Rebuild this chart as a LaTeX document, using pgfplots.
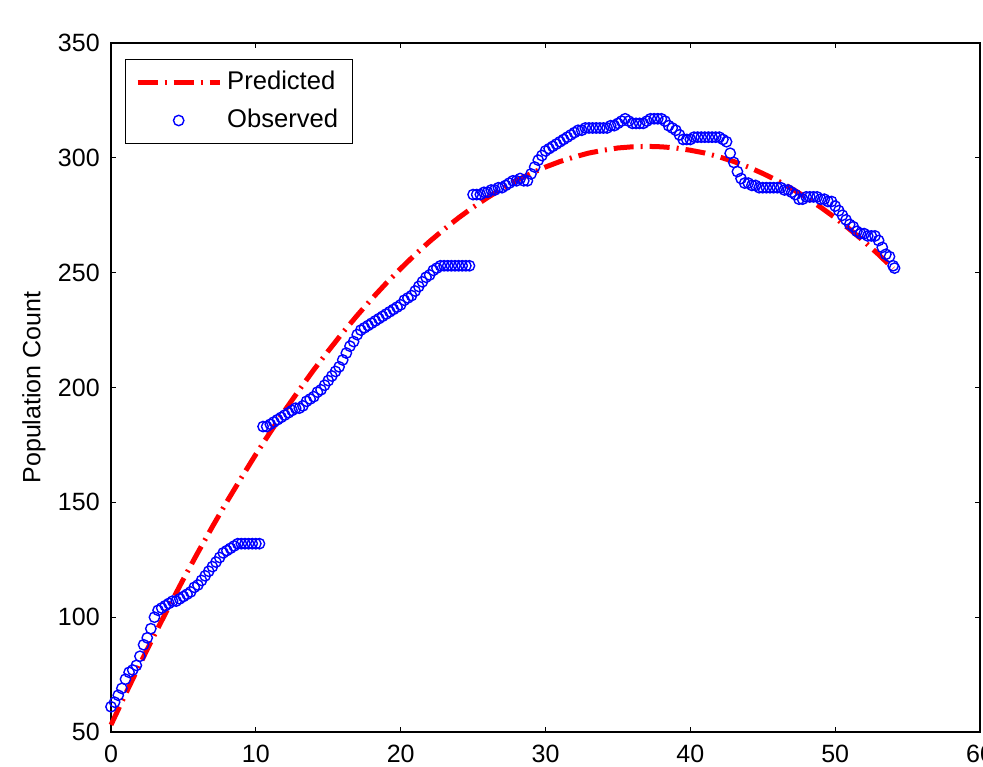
\documentclass[border=0pt]{standalone}
\usepackage{pgfplots}
\pgfplotsset{compat=1.18}
\usepackage{fontspec}
\setmainfont{Liberation Sans}
\definecolor{mred}{RGB}{255,0,0}
\definecolor{mblue}{RGB}{0,0,255}
\pgfplotsset{
    lineleg/.style={legend image code/.code={\draw[##1] (0pt,0pt) -- (41pt,0pt);}},
    markleg/.style={legend image code/.code={\draw[##1] plot coordinates {(20.5pt,0pt)};}},
}
\begin{document}
\begin{tikzpicture}
\fontsize{12.5}{15}\selectfont
\begin{axis}[
    name=ax,
    scale only axis,
    width=434.5pt,
    height=344.5pt,
    xmin=0, xmax=60,
    ymin=50, ymax=350,
    xtick={0,10,...,60},
    ytick={50,100,...,350},
    tick align=inside,
    major tick length=2.5pt,
    axis line style={line width=0.6pt},
    every tick/.style={black, line width=0.6pt},
    /pgf/number format/assume math mode=true,
    tick label style={font=\fontsize{12.5}{15}\selectfont},
    xticklabel style={yshift=-2.3pt},
    yticklabel style={xshift=-1.3pt},
    ylabel={Population Count},
    every axis y label/.style={at={(axis description cs:-0.0886,0.5)}, rotate=90, anchor=center},
    clip=false,
    legend style={at={(axis description cs:0.0161,0.977)}, anchor=north west,
        draw=black, line width=0.6pt, inner xsep=4.8pt, inner ysep=4.3pt,
        row sep=5pt, cells={anchor=west},
        nodes={inner ysep=1.5pt, inner xsep=2.5pt, font=\fontsize{12.8}{15}\selectfont}},
]
% predicted curve
\addplot[mred, line width=2.5pt, dash pattern=on 10pt off 3.5pt on 1pt off 3.5pt, lineleg]
coordinates {
(0,53.1) (1,66.5) (2,79.6) (3,92.3) (4,104.6) (5,116.6) (6,128.2) (7,139.4) (8,150.3) (9,160.7)
(10,170.9) (11,180.6) (12,190.0) (13,199.0) (14,207.7) (15,215.9) (16,223.9) (17,231.4) (18,238.6) (19,245.4)
(20,251.8) (21,257.9) (22,263.6) (23,268.9) (24,273.9) (25,278.5) (26,282.7) (27,286.6) (28,290.1) (29,293.2)
(30,296.0) (31,298.4) (32,300.4) (33,302.1) (34,303.3) (35,304.3) (36,304.8) (37,305.0) (38,304.8) (39,304.3)
(40,303.3) (41,302.1) (42,300.4) (43,298.4) (44,296.0) (45,293.2) (46,290.1) (47,286.6) (48,282.7) (49,278.5)
(50,273.9) (51,268.9) (52,263.6) (53,257.9) (54,251.8)
};
\addlegendentry{Predicted}
% observed counts
\addplot[mblue, only marks, mark=o, mark size=2.6pt, line width=0.7pt, markleg]
coordinates {
(0,61) (0.25,63) (0.5,66) (0.75,69) (1.0,73) (1.25,76) (1.5,77) (1.75,79) (2.0,83) (2.25,88)
(2.5,91) (2.75,95) (3.0,100) (3.25,103) (3.5,104) (3.75,105) (4.0,106) (4.25,107) (4.5,107) (4.75,108)
(5.0,109) (5.25,110) (5.5,111) (5.75,113) (6.0,114) (6.25,116) (6.5,118) (6.75,120) (7.0,122) (7.25,124)
(7.5,126) (7.75,128) (8.0,129) (8.25,130) (8.5,131) (8.75,132) (9.0,132) (9.25,132) (9.5,132) (9.75,132)
(10.0,132) (10.25,132)
(10.5,183) (10.75,183) (11.0,184) (11.25,185) (11.5,186) (11.75,187) (12.0,188) (12.25,189) (12.5,190) (12.75,191)
(13.0,191) (13.25,192) (13.5,194) (13.75,195) (14.0,196) (14.25,198) (14.5,199) (14.75,201) (15.0,203) (15.25,205)
(15.5,207) (15.75,209) (16.0,212) (16.25,215) (16.5,218) (16.75,220) (17.0,223) (17.25,225) (17.5,226) (17.75,227)
(18.0,228) (18.25,229) (18.5,230) (18.75,231) (19.0,232) (19.25,233) (19.5,234) (19.75,235) (20.0,236) (20.25,238)
(20.5,239) (20.75,240) (21.0,242) (21.25,244) (21.5,246) (21.75,248) (22.0,249) (22.25,251) (22.5,252) (22.75,253)
(23.0,253) (23.25,253) (23.5,253) (23.75,253) (24.0,253) (24.25,253) (24.5,253) (24.75,253)
(25.0,284) (25.25,284) (25.5,284) (25.75,285) (26.0,285) (26.25,286) (26.5,286) (26.75,287) (27.0,287) (27.25,288)
(27.5,289) (27.75,290) (28.0,290) (28.25,291) (28.5,290) (28.75,290) (29.0,293) (29.25,296) (29.5,299) (29.75,301)
(30.0,303) (30.25,304) (30.5,305) (30.75,306) (31.0,307) (31.25,308) (31.5,309) (31.75,310) (32.0,311) (32.25,312)
(32.5,312) (32.75,313) (33.0,313) (33.25,313) (33.5,313) (33.75,313) (34.0,313) (34.25,313) (34.5,314) (34.75,314)
(35.0,315) (35.25,316) (35.5,317) (35.75,316) (36.0,315) (36.25,315) (36.5,315) (36.75,315) (37.0,316) (37.25,317)
(37.5,317) (37.75,317) (38.0,317) (38.25,316) (38.5,314) (38.75,313) (39.0,312) (39.25,310) (39.5,308) (39.75,308)
(40.0,308) (40.25,309) (40.5,309) (40.75,309) (41.0,309) (41.25,309) (41.5,309) (41.75,309) (42.0,309) (42.25,308)
(42.5,307) (42.75,302) (43.0,298) (43.25,294) (43.5,291) (43.75,289) (44.0,289) (44.25,288) (44.5,288) (44.75,287)
(45.0,287) (45.25,287) (45.5,287) (45.75,287) (46.0,287) (46.25,287) (46.5,286) (46.75,286) (47.0,285) (47.25,284)
(47.5,282) (47.75,282) (48.0,283) (48.25,283) (48.5,283) (48.75,283) (49.0,282) (49.25,282) (49.5,281) (49.75,281)
(50.0,279) (50.25,277) (50.5,275) (50.75,273) (51.0,271) (51.25,270) (51.5,268) (51.75,267) (52.0,267) (52.25,266)
(52.5,266) (52.75,266) (53.0,264) (53.25,261) (53.5,258) (53.75,257) (54.0,253) (54.1,252)
};
\addlegendentry{Observed}
\end{axis}
\pgfresetboundingbox
\path[use as bounding box] ([xshift=-55.5pt,yshift=-17pt]ax.south west) rectangle ([xshift=1.5pt,yshift=21.5pt]ax.north east);
\end{tikzpicture}
\end{document}
